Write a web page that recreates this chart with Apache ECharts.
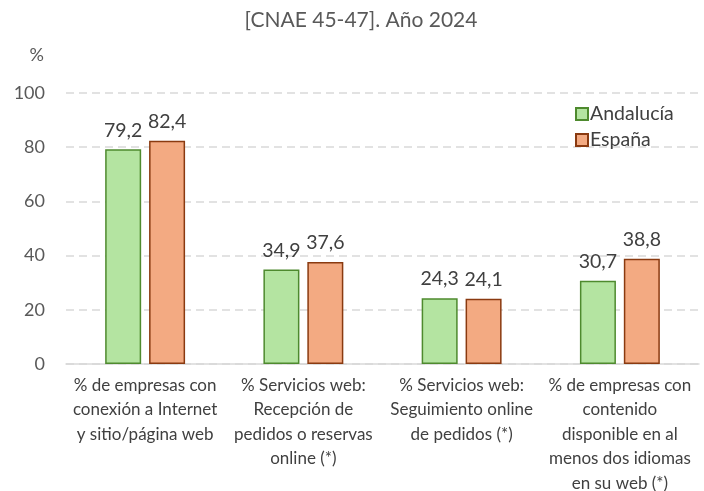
<!DOCTYPE html>
<html>
<head>
<meta charset="utf-8">
<script src="https://cdn.jsdelivr.net/npm/echarts@6/dist/echarts.min.js"></script>
<style>
html, body { margin: 0; padding: 0; background: #fff; }
#chart { width: 704px; height: 491px; }
</style>
</head>
<body>
<div id="chart"></div>
<script>
var categories = [
	'% de empresas con\nconexión a Internet\ny sitio/página web',
	'% Servicios web:\nRecepción de\npedidos o reservas\nonline (*)',
	'% Servicios web:\nSeguimiento online\nde pedidos (*)',
	'% de empresas con\ncontenido\ndisponible en al\nmenos dos idiomas\nen su web (*)'
];
var andalucia = [79.2, 34.9, 24.3, 30.7];
var espana = [82.4, 37.6, 24.1, 38.8];
var yTicks = [0, 20, 40, 60, 80, 100];

var font = 'Lato, "Open Sans", sans-serif';
function comma(p) {
	return String(p.value.toFixed(1)).replace('.', ',');
}

var myChart = echarts.init(document.getElementById('chart'));
var option = {
	textStyle : { fontFamily : font },
	title : {
		text : '[CNAE 45-47]. Año 2024',
		left : 356,
		textAlign : 'center',
		top : 5,
		textStyle : { color : '#595959', fontSize : 21, fontWeight : 'normal', fontFamily : font }
	},
	legend : {
		orient : 'vertical',
		left : 570,
		top : 99,
		itemWidth : 12,
		itemHeight : 12,
		itemGap : 6,
		icon : 'rect',
		textStyle : { color : '#404040', fontSize : 19.5, fontFamily : font, padding : [0, 0, 0, -3] },
		data : ['Andalucía', 'España']
	},
	grid : { left : 66, right : 5, top : 93, bottom : 127, outerBoundsMode : 'none', containLabel : false },
	xAxis : {
		type : 'category',
		data : categories,
		axisLine : { lineStyle : { color : '#d9d9d9', width : 1.5 } },
		axisTick : { show : false },
		axisLabel : { color : '#404040', fontSize : 17, lineHeight : 24.5, margin : 9, interval : 0, fontFamily : font }
	},
	yAxis : {
		type : 'value',
		min : yTicks[0],
		max : yTicks[yTicks.length - 1],
		interval : 20,
		name : '%',
		nameLocation : 'end',
		nameGap : 29,
		nameTextStyle : { color : '#595959', fontSize : 18, align : 'right', padding : [0, 22, 0, 0], fontFamily : font },
		axisLine : { show : false },
		axisTick : { show : false },
		axisLabel : { color : '#595959', fontSize : 18, margin : 21, fontFamily : font },
		splitLine : { lineStyle : { color : '#d9d9d9', type : [8, 5], width : 1.5 } }
	},
	series : [
		{
			name : 'Andalucía',
			type : 'bar',
			data : andalucia,
			barWidth : 36,
			barGap : '22%',
			itemStyle : { color : '#b4e4a1', borderColor : '#4e8a2e', borderWidth : 1.5 },
			label : { show : true, position : 'top', distance : 9, color : '#404040', fontSize : 19.5, formatter : comma, fontFamily : font }
		},
		{
			name : 'España',
			type : 'bar',
			data : espana,
			barWidth : 36,
			itemStyle : { color : '#f3aa82', borderColor : '#8a3a10', borderWidth : 1.5 },
			label : { show : true, position : 'top', distance : 9, color : '#404040', fontSize : 19.5, formatter : comma, fontFamily : font }
		}
	]
};
myChart.setOption(option);
</script>
</body>
</html>
